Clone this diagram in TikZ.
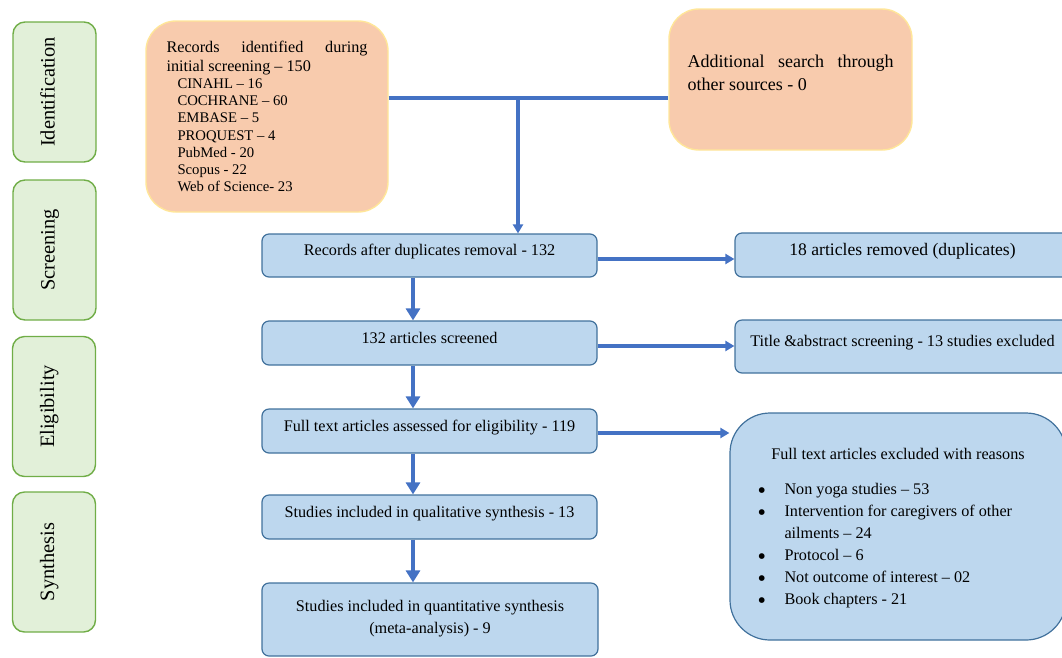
\documentclass[tikz,border=0pt]{standalone}
\usepackage{fontspec}
\setmainfont{Liberation Serif}
\usetikzlibrary{arrows.meta}
\setlength\parindent{0pt}
\definecolor{arr}{HTML}{4472C4}
\definecolor{bfill}{HTML}{BDD7EE}
\definecolor{bdraw}{HTML}{41719C}
\definecolor{ofill}{HTML}{F8CBAD}
\definecolor{odraw}{HTML}{FFE699}
\definecolor{gfill}{HTML}{E2F0D9}
\definecolor{gdraw}{HTML}{70AD47}
\newcommand{\bigbul}{\raisebox{-3.5pt}[0pt][0pt]{\fontsize{24}{24}\selectfont\textbullet}}
\begin{document}
\begin{tikzpicture}[x=1pt,y=-1pt,
  phase/.style={draw=gdraw, fill=gfill, line width=1.4pt, rounded corners=12pt, rotate=90,
    minimum width=140pt, minimum height=83pt, inner sep=0pt,
    font=\fontsize{20.4}{24}\selectfont, text height=12pt, text depth=12pt},
  obox/.style={draw=odraw, fill=ofill, line width=1.4pt, rounded corners=30pt, inner sep=0pt},
  bluebox/.style={draw=bdraw, fill=bfill, line width=1.2pt, rounded corners=7pt, inner sep=0pt,
    font=\fontsize{16.2}{20}\selectfont},
  oneline/.style={text height=10pt, text depth=10pt},
  vert/.style={draw=arr, line width=4.5pt, -{Triangle[width=14pt,length=12pt]}},
  horiz/.style={draw=arr, line width=3.2pt, -{Triangle[width=10pt,length=9pt]}},
  conn/.style={draw=arr, line width=3.2pt}
]
\useasboundingbox (0,0) rectangle (1062,657);
\clip (0,0) rectangle (1062,657);

% phase labels
\node[phase] (ident) at (54.5,92) {Identification};
\node[phase] (scr) at (54.5,250) {Screening};
\node[phase] (elig) at (54,406.5) {Eligibility};
\node[phase] (syn) at (54,562) {Synthesis};

% orange boxes
\node[obox, minimum width=242pt, minimum height=191pt, text width=201pt, align=justify] (rec) at (267,116.5)
 {\hyphenpenalty=10000\tolerance=10000\fontsize{16.2}{19}\selectfont
  Records identified during initial screening -- 150\par
  {\fontsize{14.7}{17.2}\selectfont
  \hspace*{11pt}CINAHL -- 16\par
  \hspace*{11pt}COCHRANE -- 60\par
  \hspace*{11pt}EMBASE -- 5\par
  \hspace*{11pt}PROQUEST -- 4\par
  \hspace*{11pt}PubMed - 20\par
  \hspace*{11pt}Scopus - 22\par
  \hspace*{11pt}Web of Science- 23\par}};

\node[obox, minimum width=243pt, minimum height=141pt] (add) at (790.5,79.5)
 {\parbox[c][49pt][t]{206pt}{\hyphenpenalty=10000\tolerance=10000\fontsize{18}{23}\selectfont
  Additional search through other sources - 0}};

% main blue boxes
\node[bluebox, oneline, minimum width=335pt, minimum height=43pt] (b1) at (429.5,255.5) {Records after duplicates removal - 132};
\node[bluebox, oneline, minimum width=335pt, minimum height=44pt] (b2) at (429.5,343) {132 articles screened};
\node[bluebox, oneline, minimum width=335pt, minimum height=44pt] (b3) at (429.5,431) {Full text articles assessed for eligibility - 119};
\node[bluebox, oneline, minimum width=335pt, minimum height=44pt] (b4) at (429.5,517) {Studies included in qualitative synthesis - 13};
\node[bluebox, minimum width=336pt, minimum height=73pt, align=center, font=\fontsize{16.2}{21.7}\selectfont] (b5) at (430,619.5)
 {Studies included in quantitative synthesis\\(meta-analysis) - 9\\[-16.7pt]\mbox{}};

% right boxes
\node[bluebox, oneline, minimum width=335pt, minimum height=44pt, font=\fontsize{17.6}{21}\selectfont] (r1) at (902.5,255) {18 articles removed (duplicates)};
\node[bluebox, oneline, minimum width=335pt, minimum height=53pt] (r2) at (902.5,346.5) {Title \&abstract screening - 13 studies excluded};
\node[bluebox, rounded corners=40pt, minimum width=336pt, minimum height=227pt,
      font=\fontsize{16.2}{22}\selectfont] (r3) at (898,526.5)
 {\parbox[c][157pt][t]{277pt}{{\centering Full text articles excluded with reasons\par}\vspace{19pt}
  \begin{tabular}{@{}p{25pt}@{}l@{}}
  \hspace*{-2pt}\bigbul & Non yoga studies -- 53\\
  \hspace*{-2pt}\bigbul & Intervention for caregivers of other\\
   & ailments -- 24\\
  \hspace*{-2pt}\bigbul & Protocol -- 6\\
  \hspace*{-2pt}\bigbul & Not outcome of interest -- 02\\
  \hspace*{-2pt}\bigbul & Book chapters - 21
  \end{tabular}}};

% connectors
\coordinate (j) at (518,98);
\draw[conn] (rec.east |- j) -- (add.west |- j);
\draw[horiz] (j) -- (j |- b1.north);

\draw[vert] ([xshift=-16.5pt]b1.south) -- ([xshift=-16.5pt]b2.north);
\draw[vert] ([xshift=-16.5pt]b2.south) -- ([xshift=-16.5pt]b3.north);
\draw[vert] ([xshift=-16.5pt]b3.south) -- ([xshift=-16.5pt]b4.north);
\draw[vert] ([xshift=-16.5pt]b4.south) -- ([xshift=-17pt]b5.north);

\coordinate (h1) at ([yshift=-3.5pt]b1.east);
\coordinate (h2) at ([yshift=-3pt]b2.east);
\coordinate (h3) at ([yshift=-2pt]b3.east);
\draw[horiz] (h1) -- (h1 -| r1.west);
\draw[horiz] (h2) -- (h2 -| r2.west);
\draw[horiz] (h3) -- (h3 -| r3.west);
\end{tikzpicture}
\end{document}
